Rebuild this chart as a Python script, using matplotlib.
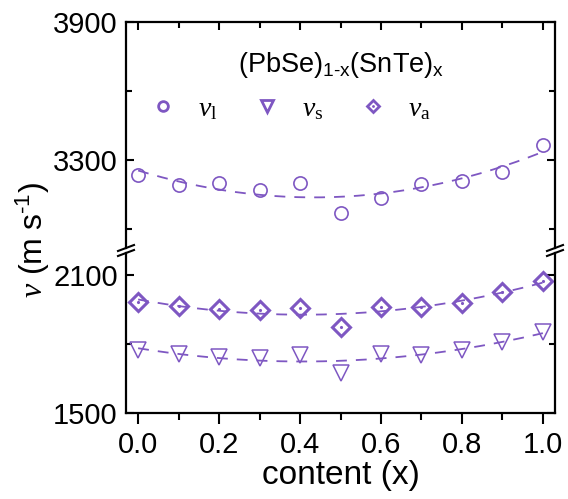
import numpy as np
import matplotlib
matplotlib.use("Agg")
import matplotlib.pyplot as plt
from matplotlib.lines import Line2D
from matplotlib.legend_handler import HandlerTuple

# data
content = [0.0, 0.1, 0.2, 0.3, 0.4, 0.5, 0.6, 0.7, 0.8, 0.9, 1.0]
v_l = [3235, 3191, 3200, 3170, 3200, 3070, 3135, 3196, 3209, 3248, 3365]
v_s = [1774, 1757, 1743, 1739, 1752, 1674, 1757, 1752, 1774, 1809, 1852]
v_a = [1983, 1965, 1952, 1948, 1957, 1874, 1961, 1961, 1978, 2026, 2074]

purple = '#7E57C2'

plt.rcParams['font.family'] = ['Liberation Sans', 'DejaVu Sans']
plt.rcParams['mathtext.fontset'] = 'custom'
plt.rcParams['mathtext.rm'] = 'Liberation Serif'
plt.rcParams['mathtext.it'] = 'Liberation Serif:italic'
plt.rcParams['mathtext.sf'] = 'Liberation Sans'

W, H = 568, 499
fig = plt.figure(figsize=(W / 100, H / 100), dpi=100)
ax_top = fig.add_axes([126 / W, 1 - 248 / H, 429 / W, 226 / H])
ax_bot = fig.add_axes([126 / W, 1 - 413 / H, 429 / W, 160 / H])

x = np.array(content)
xf = np.linspace(0, 1, 200)

# fitted dashed curves (quadratic fit of each series)
def fit(y):
    return np.polyval(np.polyfit(x, y, 2), xf)

dash = (0, (6, 5))
ax_top.plot(xf, fit(v_l), ls=dash, lw=1.3, color=purple)
ax_bot.plot(xf, fit(v_a), ls=dash, lw=1.3, color=purple)
ax_bot.plot(xf, fit(v_s), ls=dash, lw=1.3, color=purple)

ax_top.plot(x, v_l, 'o', ms=9.5, mfc='none', mec=purple, mew=1.2)
ax_bot.plot(x, v_s, 'v', ms=11, mfc='none', mec=purple, mew=1.1)
ax_bot.plot(x, v_a, 'D', ms=9, mfc='none', mec=purple, mew=2.2)
ax_bot.plot(x, v_a, '.', ms=2.5, color=purple)

for ax in (ax_top, ax_bot):
    ax.set_xlim(-0.03, 1.03)
    for s in ax.spines.values():
        s.set_linewidth(1.6)
    ax.set_xticks([0, 0.2, 0.4, 0.6, 0.8, 1.0])
    ax.set_xticks([0.1, 0.3, 0.5, 0.7, 0.9], minor=True)
    ax.tick_params(which='major', length=6, width=1.5, labelsize=21)
    ax.tick_params(which='minor', length=4, width=1.5)
    ax.tick_params(axis='y', which='both', direction='in', left=True, right=True, pad=6)

ax_top.set_ylim(2917, 3900)
ax_top.set_yticks([3300, 3900])
ax_top.set_yticks([3000, 3600], minor=True)
ax_top.spines['bottom'].set_visible(False)
ax_top.tick_params(axis='x', which='both', direction='in', bottom=False, top=True,
                   labelbottom=False)

ax_bot.set_ylim(1500, 2196)
ax_bot.set_yticks([1500, 2100])
ax_bot.set_yticks([1800], minor=True)
ax_bot.spines['top'].set_visible(False)
ax_bot.tick_params(axis='x', which='both', direction='out', top=False, pad=5)
ax_bot.tick_params(axis='x', which='major', length=8)
ax_bot.tick_params(axis='x', which='minor', length=5)
ax_bot.set_xticklabels(['0.0', '0.2', '0.4', '0.6', '0.8', '1.0'])
ax_bot.set_xlabel('content (x)', fontsize=24, labelpad=1)

# y label spanning both panels
fig.text(33 / W, 1 - 240 / H, r'$\nu$ $\mathsf{(m\ s^{‐1})}$', rotation=90,
         fontsize=23, ha='center', va='center')

# axis break marks
for px in (126, 555):
    for py in (248, 253):
        fig.add_artist(Line2D([(px - 8) / W, (px + 8) / W],
                              [1 - (py + 3) / H, 1 - (py - 3) / H],
                              transform=fig.transFigure, color='black', lw=1.5))

ax_top.text(0.502, 1 - (65 - 22) / 226, r'$\mathsf{(PbSe)_{1‐x}(SnTe)_x}$',
            transform=ax_top.transAxes, fontsize=19.5, ha='center', va='center')

h_l = Line2D([], [], ls='none', marker='o', ms=7, mfc='none', mec=purple, mew=2)
h_s = Line2D([], [], ls='none', marker='v', ms=8, mfc='none', mec=purple, mew=2)
h_a = Line2D([], [], ls='none', marker='D', ms=6.5, mfc='none', mec=purple, mew=2)
h_d = Line2D([], [], ls='none', marker='.', ms=2, color=purple)
ax_top.legend([h_l, h_s, (h_a, h_d)],
              [r'$v_\mathrm{l}$', r'$v_\mathrm{s}$', r'$v_\mathrm{a}$'],
              handler_map={tuple: HandlerTuple(ndivide=1, pad=0)},
              ncol=3, frameon=False, fontsize=20, loc='center',
              bbox_to_anchor=(0.385, 1 - (109 - 22) / 226), handlelength=0.8,
              handletextpad=0.85, columnspacing=1.4)

fig.savefig('out.png', dpi=100)
